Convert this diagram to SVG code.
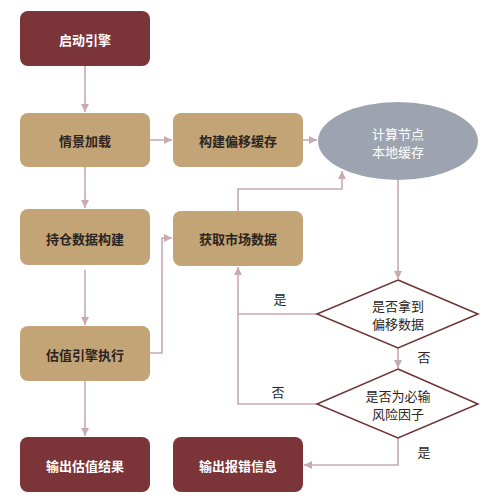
<svg xmlns="http://www.w3.org/2000/svg" width="500" height="503" viewBox="0 0 500 503">
<style>
.dark{fill:#7b3538}
.tan{fill:#c3a476}
.ell{fill:#9da4b0}
.dia{fill:#ffffff;stroke:#6e3334;stroke-width:1.5}
.t{font-family:"Noto Sans CJK SC","Noto Sans CJK JP",sans-serif;font-size:13px;font-weight:bold;text-anchor:middle;dominant-baseline:central}
.tw{fill:#ffffff}
.tb{fill:#2b2420}
.tn{font-family:"Noto Sans CJK SC","Noto Sans CJK JP",sans-serif;font-size:13px;text-anchor:middle;dominant-baseline:central;fill:#2b2420}
.c{fill:none;stroke:#c9aab1;stroke-width:1.6}
</style>
<defs>
<marker id="ah" markerUnits="userSpaceOnUse" markerWidth="10" markerHeight="10" refX="8" refY="4" orient="auto">
<path d="M0,0 L8,4 L0,8 z" fill="#c9aab1"/>
</marker>
</defs>
<rect width="500" height="503" fill="#ffffff"/>
<g id="connectors">
<path class="c" d="M85,66 V112" marker-end="url(#ah)"/>
<path class="c" d="M150,140 H172" marker-end="url(#ah)"/>
<path class="c" d="M303,140 H317" marker-end="url(#ah)"/>
<path class="c" d="M85,167 V208" marker-end="url(#ah)"/>
<path class="c" d="M85,270 V325" marker-end="url(#ah)"/>
<path class="c" d="M150,353 H162 V238 H172" marker-end="url(#ah)"/>
<path class="c" d="M238,211 V189 H342 V171" marker-end="url(#ah)"/>
<path class="c" d="M398,180 V279" marker-end="url(#ah)"/>
<path class="c" d="M317,314 H238 V267" marker-end="url(#ah)"/>
<path class="c" d="M398,348 V368" marker-end="url(#ah)"/>
<path class="c" d="M317,404 H238 V314"/>
<path class="c" d="M398,438 V465 H304" marker-end="url(#ah)"/>
<path class="c" d="M85,381 V436" marker-end="url(#ah)"/>
<text class="tn" x="280" y="298">是</text>
<text class="tn" x="424" y="356">否</text>
<text class="tn" x="278" y="391">否</text>
<text class="tn" x="424" y="451">是</text>
</g>
<g id="n1"><rect class="dark" x="20" y="11" width="130" height="55" rx="8"/><text class="t tw" x="85" y="39">启动引擎</text></g>
<g id="n2"><rect class="tan" x="20" y="113" width="130" height="54" rx="8"/><text class="t tb" x="85" y="140">情景加载</text></g>
<g id="n3"><rect class="tan" x="173" y="113" width="130" height="54" rx="8"/><text class="t tb" x="238" y="140">构建偏移缓存</text></g>
<g id="n4"><ellipse class="ell" cx="398" cy="141" rx="80" ry="39"/><text class="tn" x="398" y="133" fill="#ffffff" style="fill:#ffffff">计算节点</text><text class="tn" x="398" y="151" style="fill:#ffffff">本地缓存</text></g>
<g id="n5"><rect class="tan" x="20" y="209" width="130" height="56" rx="8"/><text class="t tb" x="85" y="238">持仓数据构建</text></g>
<g id="n6"><rect class="tan" x="173" y="211" width="130" height="55" rx="8"/><text class="t tb" x="238" y="238">获取市场数据</text></g>
<g id="n7"><rect class="tan" x="20" y="326" width="130" height="55" rx="8"/><text class="t tb" x="85" y="354">估值引擎执行</text></g>
<g id="n8"><polygon class="dia" points="398,280 478,314 398,348 317,314"/><text class="tn" x="398" y="305">是否拿到</text><text class="tn" x="398" y="323">偏移数据</text></g>
<g id="n9"><polygon class="dia" points="398,369 478,404 398,438 317,404"/><text class="tn" x="398" y="395">是否为必输</text><text class="tn" x="398" y="413">风险因子</text></g>
<g id="n10"><rect class="dark" x="20" y="437" width="130" height="55" rx="8"/><text class="t tw" x="85" y="465">输出估值结果</text></g>
<g id="n11"><rect class="dark" x="173" y="437" width="130" height="55" rx="8"/><text class="t tw" x="238" y="465">输出报错信息</text></g>
</svg>
